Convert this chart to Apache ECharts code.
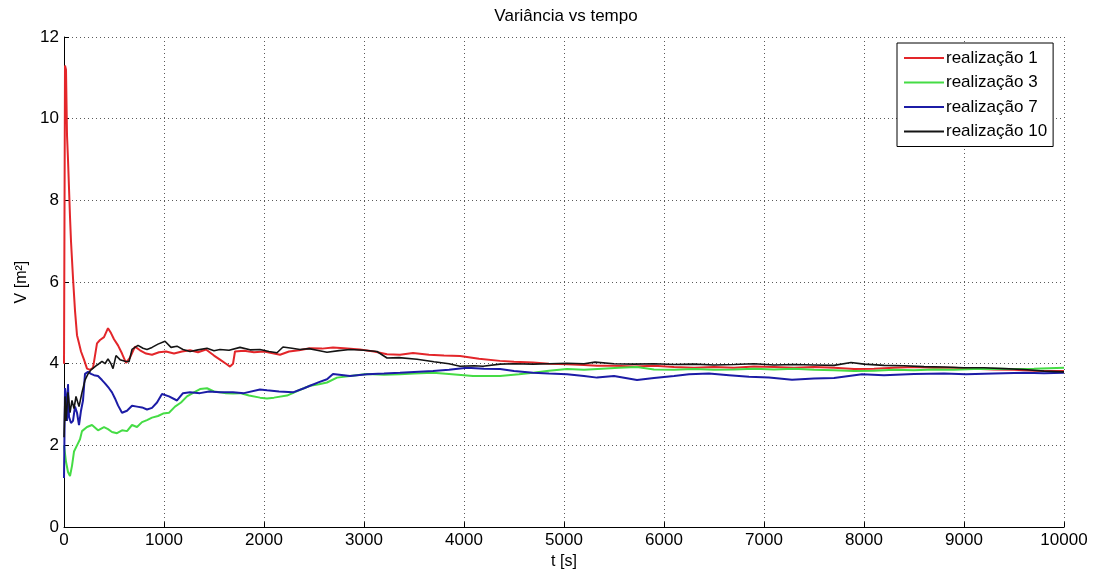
<!DOCTYPE html>
<html>
<head>
<meta charset="utf-8">
<title>Variância vs tempo</title>
<script src="https://cdn.jsdelivr.net/npm/echarts@6/dist/echarts.min.js"></script>
<style>
  html, body { margin: 0; padding: 0; background: #fff; }
  #chart { width: 1093px; height: 575px; }
</style>
</head>
<body>
<div id="chart"></div>
<script>
// Running variance V [m^2] against time t [s], one [t, V] pair per sample
const seriesNames = ['realização 1', 'realização 3', 'realização 7', 'realização 10'];

const realizacao1 = [
  [0, 4.0], [10, 11.3], [20, 11.2], [30, 9.6], [40, 9.0], [50, 8.3], [60, 7.6], [70, 7.0],
  [90, 6.1], [110, 5.3], [130, 4.7], [150, 4.5], [170, 4.3], [200, 4.1], [230, 3.88], [260, 3.85],
  [290, 3.9], [310, 4.2], [330, 4.5], [360, 4.58], [400, 4.65], [440, 4.87], [470, 4.75], [500, 4.6],
  [540, 4.45], [580, 4.25], [620, 4.02], [660, 4.15], [710, 4.42], [760, 4.33], [820, 4.25], [880, 4.22],
  [950, 4.28], [1020, 4.3], [1100, 4.25], [1180, 4.3], [1260, 4.33], [1340, 4.28], [1420, 4.35], [1500, 4.2],
  [1560, 4.1], [1620, 4.0], [1660, 3.93], [1690, 4.0], [1710, 4.3], [1800, 4.32], [1900, 4.28], [2000, 4.3],
  [2100, 4.25], [2160, 4.22], [2250, 4.3], [2350, 4.33], [2460, 4.38], [2580, 4.37], [2690, 4.4], [2800, 4.38],
  [2960, 4.35], [3100, 4.3], [3230, 4.23], [3360, 4.22], [3490, 4.26], [3650, 4.22], [3800, 4.2], [3960, 4.19],
  [4150, 4.12], [4360, 4.07], [4500, 4.05], [4690, 4.03], [4850, 4.0], [5030, 3.99], [5200, 3.97], [5330, 3.95],
  [5500, 3.95], [5700, 3.93], [5900, 3.95], [6100, 3.92], [6300, 3.9], [6500, 3.92], [6700, 3.9], [6900, 3.93],
  [7100, 3.92], [7300, 3.9], [7500, 3.92], [7700, 3.9], [7900, 3.87], [8100, 3.88], [8300, 3.9], [8500, 3.92],
  [8700, 3.9], [8900, 3.9], [9100, 3.88], [9300, 3.86], [9500, 3.85], [9700, 3.83], [9850, 3.82], [10000, 3.82]
];

const realizacao3 = [
  [0, 2.0], [20, 1.6], [40, 1.35], [60, 1.25], [80, 1.5], [100, 1.85], [130, 2.0], [160, 2.15],
  [180, 2.35], [230, 2.45], [280, 2.5], [340, 2.37], [400, 2.45], [440, 2.4], [480, 2.33], [530, 2.3],
  [580, 2.37], [630, 2.35], [680, 2.5], [730, 2.45], [780, 2.57], [830, 2.62], [880, 2.68], [940, 2.72],
  [990, 2.78], [1050, 2.8], [1110, 2.95], [1170, 3.05], [1230, 3.2], [1300, 3.3], [1360, 3.38], [1430, 3.4],
  [1500, 3.32], [1560, 3.3], [1620, 3.28], [1690, 3.27], [1760, 3.28], [1850, 3.22], [1960, 3.17], [2030, 3.15],
  [2100, 3.17], [2230, 3.22], [2350, 3.35], [2460, 3.46], [2550, 3.5], [2630, 3.54], [2730, 3.66], [2860, 3.7],
  [3030, 3.75], [3200, 3.73], [3360, 3.74], [3500, 3.76], [3690, 3.78], [3850, 3.75], [4090, 3.7], [4360, 3.7],
  [4550, 3.74], [4690, 3.78], [4850, 3.83], [5030, 3.87], [5200, 3.85], [5380, 3.88], [5550, 3.9], [5730, 3.92],
  [5900, 3.86], [6100, 3.85], [6300, 3.87], [6500, 3.85], [6700, 3.86], [6900, 3.88], [7100, 3.86], [7300, 3.88],
  [7500, 3.85], [7700, 3.84], [7900, 3.82], [8100, 3.83], [8300, 3.85], [8500, 3.84], [8700, 3.86], [8900, 3.85],
  [9100, 3.87], [9300, 3.88], [9500, 3.87], [9700, 3.88], [10000, 3.9]
];

const realizacao7 = [
  [0, 1.2], [10, 3.4], [20, 3.2], [30, 2.6], [40, 3.5], [50, 2.7], [70, 2.55], [90, 2.6],
  [110, 2.95], [130, 2.8], [150, 2.5], [170, 2.85], [190, 3.1], [210, 3.75], [240, 3.8], [270, 3.75],
  [300, 3.72], [340, 3.7], [380, 3.6], [410, 3.52], [450, 3.4], [480, 3.3], [510, 3.15], [540, 2.98],
  [580, 2.8], [630, 2.85], [680, 2.97], [730, 2.95], [780, 2.93], [830, 2.88], [880, 2.92], [930, 3.05],
  [980, 3.26], [1050, 3.2], [1130, 3.1], [1190, 3.28], [1260, 3.3], [1360, 3.28], [1450, 3.32], [1560, 3.3],
  [1690, 3.3], [1800, 3.28], [1960, 3.37], [2030, 3.35], [2150, 3.32], [2290, 3.3], [2400, 3.4], [2460, 3.46],
  [2550, 3.55], [2630, 3.62], [2690, 3.75], [2860, 3.7], [3030, 3.74], [3200, 3.76], [3360, 3.78], [3500, 3.8],
  [3690, 3.82], [3850, 3.85], [4030, 3.9], [4200, 3.88], [4360, 3.87], [4500, 3.82], [4690, 3.78], [4850, 3.76],
  [5030, 3.74], [5200, 3.7], [5330, 3.66], [5500, 3.7], [5730, 3.6], [5900, 3.65], [6100, 3.7], [6250, 3.74],
  [6450, 3.76], [6650, 3.72], [6850, 3.68], [7050, 3.66], [7280, 3.61], [7500, 3.64], [7700, 3.65], [7980, 3.74],
  [8200, 3.72], [8500, 3.75], [8800, 3.76], [9020, 3.74], [9300, 3.76], [9600, 3.78], [9800, 3.77], [10000, 3.78]
];

const realizacao10 = [
  [0, 2.2], [10, 3.2], [20, 2.6], [40, 3.3], [60, 2.8], [80, 3.1], [100, 2.9], [120, 3.2],
  [150, 2.95], [180, 3.3], [210, 3.6], [240, 3.75], [270, 3.85], [290, 3.82], [320, 3.95], [350, 4.0],
  [380, 4.06], [410, 4.0], [440, 4.12], [470, 4.0], [490, 3.88], [520, 4.2], [560, 4.1], [610, 4.06],
  [650, 4.05], [680, 4.35], [740, 4.45], [790, 4.38], [830, 4.35], [880, 4.4], [940, 4.48], [1010, 4.55],
  [1070, 4.4], [1130, 4.43], [1190, 4.35], [1260, 4.3], [1340, 4.34], [1430, 4.38], [1500, 4.32], [1560, 4.35],
  [1650, 4.33], [1760, 4.4], [1860, 4.34], [1960, 4.35], [2050, 4.3], [2130, 4.27], [2190, 4.41], [2280, 4.38],
  [2360, 4.35], [2450, 4.37], [2530, 4.33], [2630, 4.28], [2750, 4.32], [2860, 4.35], [3000, 4.33], [3130, 4.3],
  [3230, 4.14], [3350, 4.15], [3530, 4.11], [3700, 4.05], [3850, 4.0], [3960, 3.94], [4100, 3.95], [4190, 3.94],
  [4360, 3.99], [4500, 4.0], [4690, 3.99], [4850, 4.0], [5030, 4.01], [5200, 4.0], [5310, 4.04], [5500, 4.0],
  [5700, 3.99], [5900, 4.0], [6100, 3.98], [6300, 3.99], [6500, 3.97], [6700, 3.98], [6900, 4.0], [7100, 3.97],
  [7300, 3.98], [7500, 3.97], [7700, 3.96], [7870, 4.03], [8000, 3.99], [8200, 3.96], [8400, 3.95], [8600, 3.93],
  [8800, 3.92], [9000, 3.9], [9200, 3.9], [9400, 3.88], [9600, 3.86], [9800, 3.82], [10000, 3.8]
];

const seriesData = [realizacao1, realizacao3, realizacao7, realizacao10];
const seriesColors = ['#e3262a', '#45dc45', '#1c1ca6', '#141414'];
const seriesWidths = [2, 2, 2, 1.6];

const xTicks = { min: 0, max: 10000, interval: 1000 };
const yTicks = { min: 0, max: 12, interval: 2 };

const FONT = '"Liberation Sans", Arial, sans-serif';

const chart = echarts.init(document.getElementById('chart'), null, { renderer: 'canvas' });

const gridLine = { show: true, lineStyle: { color: '#5a5a5a', width: 1, type: [1, 3] } };
const plainNumber = v => String(v);

chart.setOption({
  animation: false,
  backgroundColor: '#ffffff',
  title: {
    text: 'Variância vs tempo',
    left: 561, top: 3, textAlign: 'center',
    textStyle: { fontFamily: FONT, fontSize: 17, fontWeight: 'normal', color: '#000' }
  },
  grid: { left: 64, right: 29, top: 37, bottom: 42, containLabel: false },
  legend: {
    data: seriesNames,
    orient: 'vertical',
    left: 897, top: 43,
    padding: [5, 6, 5, 6],
    itemWidth: 40, itemHeight: 12, itemGap: 4.5,
    itemStyle: { opacity: 0 },
    backgroundColor: '#fff',
    borderColor: '#000', borderWidth: 1, borderRadius: 0,
    textStyle: { fontFamily: FONT, fontSize: 17, color: '#000', lineHeight: 20, padding: [0, 0, 0, -3] }
  },
  xAxis: {
    type: 'value',
    min: xTicks.min, max: xTicks.max, interval: xTicks.interval,
    name: 't [s]', nameLocation: 'middle', nameGap: 25,
    nameTextStyle: { fontFamily: FONT, fontSize: 16, color: '#000' },
    axisLine: { show: true, onZero: false, lineStyle: { color: '#000', width: 1 } },
    axisTick: { show: true, inside: true, length: 5, lineStyle: { color: '#000' } },
    axisLabel: { fontFamily: FONT, fontSize: 17, color: '#000', margin: 5, formatter: plainNumber },
    splitLine: gridLine
  },
  yAxis: {
    type: 'value',
    min: yTicks.min, max: yTicks.max, interval: yTicks.interval,
    name: 'V [m²]', nameLocation: 'middle', nameGap: 34,
    nameTextStyle: { fontFamily: FONT, fontSize: 16, color: '#000' },
    axisLine: { show: true, onZero: false, lineStyle: { color: '#000', width: 1 } },
    axisTick: { show: true, inside: true, length: 5, lineStyle: { color: '#000' } },
    axisLabel: { fontFamily: FONT, fontSize: 17, color: '#000', margin: 5, formatter: plainNumber },
    splitLine: gridLine
  },
  series: seriesNames.map((name, i) => ({
    name: name,
    type: 'line',
    data: seriesData[i],
    symbol: 'none',
    showSymbol: false,
    color: seriesColors[i],
    lineStyle: { color: seriesColors[i], width: seriesWidths[i] },
    z: 2 + i
  }))
});
</script>
</body>
</html>
